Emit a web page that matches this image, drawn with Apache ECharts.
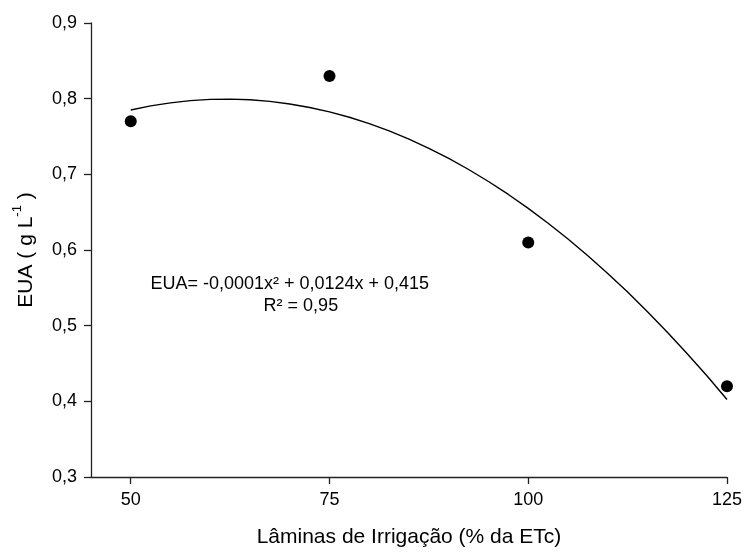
<!DOCTYPE html>
<html>
<head>
<meta charset="utf-8">
<script src="https://cdn.jsdelivr.net/npm/echarts@6/dist/echarts.min.js"></script>
<style>html,body{margin:0;padding:0;background:#fff;}#c{width:745px;height:553px;}</style>
</head>
<body>
<div id="c"></div>
<script>
// Observed points
var laminas = [50, 75, 100, 125];
var eua = [0.77, 0.83, 0.61, 0.42];
// Fitted curve
var curveX = [50, 52.5, 55, 57.5, 60, 62.5, 65, 67.5, 70, 72.5, 75, 77.5, 80, 82.5, 85, 87.5, 90, 92.5, 95, 97.5, 100, 102.5, 105, 107.5, 110, 112.5, 115, 117.5, 120, 122.5, 125];
var curveY = [0.785, 0.7904, 0.7945, 0.7974, 0.799, 0.7994, 0.7985, 0.7964, 0.793, 0.7884, 0.7825, 0.7754, 0.767, 0.7574, 0.7465, 0.7344, 0.721, 0.7064, 0.6905, 0.6734, 0.655, 0.6354, 0.6145, 0.5924, 0.569, 0.5444, 0.5185, 0.4914, 0.463, 0.4334, 0.4025];
// Tick labels
var xTicks = [50, 75, 100, 125];
var yTicks = [0.3, 0.4, 0.5, 0.6, 0.7, 0.8, 0.9];
var eqLine1 = 'EUA= -0,0001x² + 0,0124x + 0,415';
var eqLine2 = 'R² = 0,95';

var FONT = '"Liberation Sans", Arial, sans-serif';
var chart = echarts.init(document.getElementById('c'));
chart.setOption({
  animation: false,
  backgroundColor: '#fff',
  textStyle: {fontFamily: FONT, color: '#000'},
  grid: {left: 91, right: 18, top: 23, bottom: 74, containLabel: false},
  xAxis: {
    type: 'value', min: 45, max: 125,
    name: 'Lâminas de Irrigação (% da ETc)', nameLocation: 'middle', nameGap: 50,
    nameTextStyle: {fontSize: 21, color: '#000', fontFamily: FONT},
    axisLine: {show: true, lineStyle: {color: '#222', width: 1.3}},
    axisTick: {show: true, length: 7, lineStyle: {color: '#222', width: 1.3}, customValues: xTicks},
    axisLabel: {fontSize: 18, color: '#000', margin: 14, customValues: xTicks, fontFamily: FONT},
    splitLine: {show: false}
  },
  yAxis: {
    type: 'value', min: yTicks[0], max: yTicks[yTicks.length - 1], interval: 0.1,
    name: '{a|EUA ( g L}{s|-1}{a| )}', nameLocation: 'middle', nameGap: 54,
    nameTextStyle: {
      fontFamily: FONT, color: '#000',
      rich: {
        a: {fontSize: 21, lineHeight: 26, fontFamily: FONT, color: '#000', verticalAlign: 'bottom'},
        s: {fontSize: 13, lineHeight: 26, fontFamily: FONT, color: '#000', verticalAlign: 'top'}
      }
    },
    axisLine: {show: true, lineStyle: {color: '#222', width: 1.3}},
    axisTick: {show: true, length: 7, lineStyle: {color: '#222', width: 1.3}},
    axisLabel: {fontSize: 18, color: '#000', margin: 14, fontFamily: FONT,
      formatter: function (v) { return v.toFixed(1).replace('.', ','); }},
    splitLine: {show: false}
  },
  series: [
    {
      type: 'line', smooth: false, symbol: 'none',
      lineStyle: {color: '#000', width: 1.4},
      data: curveX.map(function (x, i) { return [x, curveY[i]]; }),
      z: 2
    },
    {
      type: 'scatter', symbol: 'circle', symbolSize: 12,
      itemStyle: {color: '#000', opacity: 1},
      data: laminas.map(function (x, i) { return [x, eua[i]]; }),
      z: 3
    }
  ]
});
var p1 = chart.convertToPixel({gridIndex: 0}, [70, 0.555]);
var p2 = chart.convertToPixel({gridIndex: 0}, [71.4, 0.526]);
chart.setOption({
  graphic: [
    {type: 'text', x: p1[0], y: p1[1], style: {text: eqLine1, font: '18px ' + FONT, fill: '#000', align: 'center', verticalAlign: 'middle'}},
    {type: 'text', x: p2[0], y: p2[1], style: {text: eqLine2, font: '18px ' + FONT, fill: '#000', align: 'center', verticalAlign: 'middle'}}
  ]
});
</script>
</body>
</html>
